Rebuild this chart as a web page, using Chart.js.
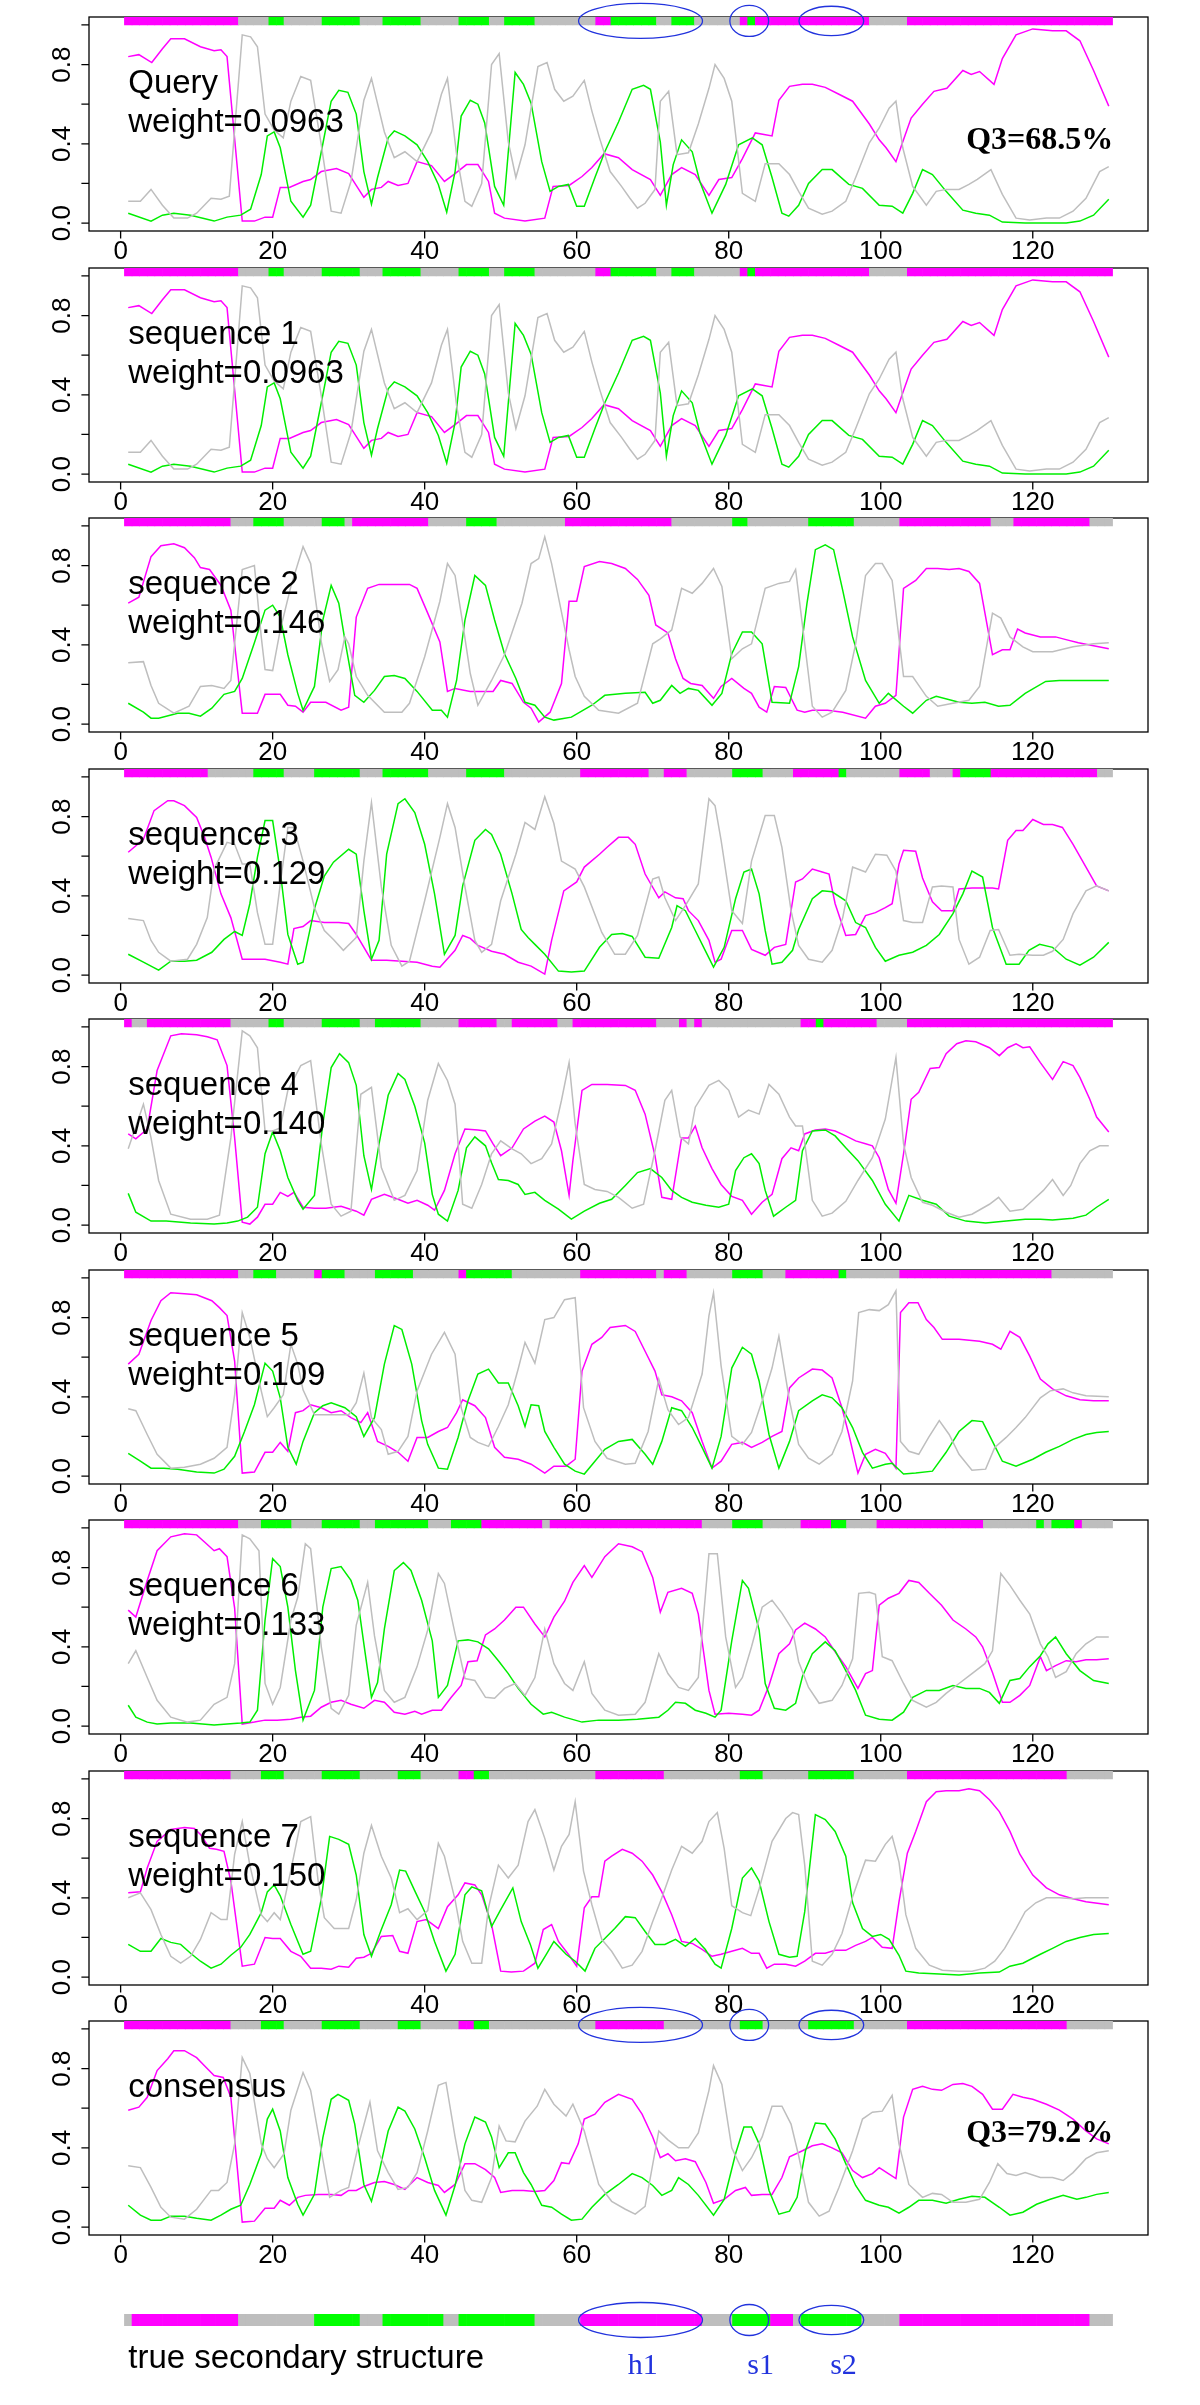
<!DOCTYPE html>
<html>
<head>
<meta charset="utf-8">
<script src="https://cdn.jsdelivr.net/npm/chart.js@4.4.1/dist/chart.umd.min.js"></script>
<style>
  body { margin: 0; background: #fff; width: 1200px; height: 2405px; position: relative; overflow: hidden; }
  canvas { position: absolute; left: 0; }
</style>
</head>
<body>
<script>
// residue positions and axis ticks
const residues = Array.from({ length: 130 }, (_, i) => i + 1)
const xTicks = [0, 20, 40, 60, 80, 100, 120]
const yTicks = [0, 0.2, 0.4, 0.6, 0.8, 1]
const yTickLabels = ['0.0', '', '0.4', '', '0.8', '']

// secondary structure per row: [type, first residue, last residue], the rest is coil
const ssQuery = [['H',1,15],['E',20,21],['E',27,31],['E',35,39],['E',45,48],['E',51,54],['H',63,64],['E',65,70],['E',73,75],['H',82,82],['E',83,83],['H',84,98],['H',104,130]]
const ssSeq1 = ssQuery
const ssSeq2 = [['H',1,14],['E',18,21],['E',27,29],['H',31,40],['E',46,49],['H',59,72],['E',81,82],['E',91,96],['H',103,114],['H',118,127]]
const ssSeq3 = [['H',1,11],['E',18,21],['E',26,31],['E',35,40],['E',46,50],['H',61,69],['H',72,74],['E',81,84],['H',89,94],['E',95,95],['H',103,106],['H',110,110],['E',111,114],['H',115,128]]
const ssSeq4 = [['H',1,1],['H',4,14],['E',20,21],['E',27,31],['E',34,39],['H',45,49],['H',52,57],['H',60,70],['H',74,74],['H',76,76],['H',90,91],['E',92,92],['H',93,99],['H',104,130]]
const ssSeq5 = [['H',1,15],['E',18,20],['H',26,26],['E',27,29],['E',34,38],['H',45,45],['E',46,51],['H',61,70],['H',72,74],['E',81,84],['H',88,94],['E',95,95],['H',103,122]]
const ssSeq6 = [['H',1,15],['E',19,22],['E',27,31],['E',34,40],['E',44,47],['H',48,55],['H',57,76],['E',81,84],['H',90,93],['E',94,95],['H',100,113],['E',121,121],['E',123,125],['H',126,126]]
const ssSeq7 = [['H',1,14],['E',19,21],['E',27,31],['E',37,39],['H',45,46],['E',47,48],['H',63,71],['E',82,84],['E',91,96],['H',104,124]]
const ssCons = ssSeq7
const ssTrue = [['H',2,15],['E',26,31],['E',35,42],['E',45,54],['H',61,76],['E',81,85],['H',86,88],['E',90,97],['H',103,127]]

// probability profiles [residue, value]: H = helix, E = strand, C = coil
const qH = [[1,.84],[2.4,.85],[4.1,.81],[5.5,.88],[6.6,.93],[8.4,.93],[10.5,.89],[12.3,.87],[13.2,.875],[14,.84],[16,.01],[17.6,.01],[19,.03],[20,.03],[21,.18],[22.2,.18],[24,.21],[25,.22],[26.4,.26],[28.4,.275],[30,.25],[32,.13],[33,.17],[34.3,.18],[35.2,.21],[36.5,.19],[37.8,.2],[39,.31],[40.9,.29],[42.6,.21],[44,.25],[45.5,.295],[47,.295],[48.4,.21],[49.2,.05],[50.5,.025],[53.2,.01],[55.8,.025],[56.9,.185],[59,.19],[60.7,.235],[62,.28],[63.6,.35],[65.5,.33],[67.3,.27],[69.7,.22],[71,.14],[72.5,.245],[73.8,.28],[75.6,.245],[77.4,.14],[78.7,.22],[80.4,.23],[81.8,.325],[83.5,.455],[85.7,.44],[86.6,.62],[88,.69],[89.7,.70],[91,.70],[92.7,.685],[94.5,.65],[96.3,.615],[98.5,.5],[99.8,.42],[100.7,.38],[102,.31],[102.9,.41],[104,.53],[105.5,.60],[107,.665],[108.7,.68],[110.8,.77],[111.9,.75],[113,.765],[114.9,.70],[116,.83],[117.8,.95],[120,.98],[122.6,.97],[124.4,.97],[126.2,.92],[128,.77],[130,.59]]
const qE = [[1,.05],[4,.01],[5.5,.04],[7,.05],[9.2,.04],[12.3,.01],[14,.03],[15.8,.04],[17.1,.07],[18.5,.245],[19.3,.44],[20.2,.46],[21,.38],[22.4,.11],[24,.03],[25,.09],[26.4,.36],[27.7,.615],[28.7,.67],[29.9,.66],[31,.55],[32,.26],[33,.095],[33.8,.23],[35.2,.43],[36,.465],[37.4,.44],[39,.395],[40.4,.31],[41.8,.195],[42.9,.055],[44,.26],[44.8,.54],[46,.62],[47,.60],[47.9,.505],[49.2,.185],[50.4,.09],[51.9,.76],[53,.70],[54,.605],[55.4,.31],[56.5,.16],[57.6,.185],[58.9,.195],[60,.085],[61,.085],[62.4,.23],[63.7,.36],[65.5,.51],[67.3,.675],[68.8,.695],[69.7,.675],[71,.41],[71.8,.09],[72.7,.295],[73.8,.42],[75.2,.36],[76.2,.21],[77.8,.05],[79.6,.195],[81.3,.395],[83.1,.43],[84.4,.395],[85.7,.23],[87,.05],[87.9,.035],[89.2,.09],[90.5,.2],[92.3,.27],[93.6,.27],[95.8,.195],[97.6,.175],[99.8,.09],[101.5,.085],[102.9,.05],[104.2,.15],[105.5,.27],[106.8,.245],[108.6,.16],[110.8,.065],[112.5,.05],[114.3,.04],[116,.005],[119,0],[124.4,0],[126.2,.01],[128,.04],[130,.12]]
const qC = [[1,.11],[2.6,.11],[4,.17],[5.5,.09],[7,.025],[8.8,.025],[10,.05],[11.9,.125],[13.2,.12],[14.3,.135],[16,.95],[17.1,.94],[18,.89],[19,.55],[20.2,.47],[21.4,.43],[22.4,.615],[23.7,.74],[25,.72],[26.4,.395],[27.7,.06],[29,.05],[30.3,.21],[32,.62],[33,.73],[34.7,.46],[36,.33],[37.4,.36],[39,.31],[40.9,.46],[42.2,.65],[43,.73],[44.2,.345],[45.3,.11],[46.2,.085],[47.5,.2],[48.8,.80],[49.8,.855],[51,.41],[52,.23],[53.2,.395],[54.9,.79],[56.1,.81],[57.1,.675],[58.3,.615],[59.5,.64],[61,.72],[62,.565],[63,.43],[64.4,.26],[65.9,.185],[67,.125],[68,.075],[69,.10],[70.3,.17],[71,.615],[72.1,.665],[73.2,.345],[74.7,.355],[76,.50],[77.4,.68],[78.2,.80],[79.4,.73],[80.4,.615],[81.8,.15],[83.5,.11],[84.8,.30],[86.6,.30],[88,.245],[89.2,.16],[90.5,.075],[92.3,.045],[93.6,.06],[95.4,.11],[96.7,.23],[98.5,.405],[99.8,.48],[101.1,.58],[102,.615],[102.9,.38],[104.2,.185],[106,.09],[107.3,.16],[108.6,.17],[110.3,.17],[111.6,.195],[112.7,.22],[114.5,.27],[116,.145],[117.8,.025],[119.6,.015],[121.8,.025],[123.5,.025],[125.3,.06],[127,.125],[128.8,.26],[130,.285]]

const s1H = qH, s1E = qE, s1C = qC

const s2H = [[1,.61],[2.4,.64],[4,.845],[5.3,.90],[7,.91],[8.4,.89],[9.7,.84],[10.5,.79],[11.7,.78],[13.2,.70],[14.5,.575],[16,.055],[18,.055],[19,.15],[21,.15],[22,.095],[23,.09],[24,.06],[25,.11],[27,.11],[29,.07],[30,.085],[31,.54],[32.5,.685],[34,.705],[38,.705],[39,.685],[40.4,.56],[42,.415],[43,.165],[44,.18],[46,.165],[49,.165],[50,.22],[51.5,.205],[53,.11],[54,.08],[55,.01],[56.5,.06],[58,.205],[59,.62],[60,.62],[61,.795],[63,.82],[64.6,.81],[66.4,.785],[68,.73],[69.5,.65],[70.4,.50],[72,.46],[73,.33],[74,.23],[75,.205],[76.5,.195],[78,.13],[79,.19],[80.4,.23],[82,.18],[83,.155],[84,.085],[85,.06],[86,.19],[87.5,.185],[89,.07],[90,.06],[91,.07],[93,.07],[95,.06],[98,.03],[99.3,.09],[100.6,.105],[102,.145],[103,.685],[104.6,.725],[106,.785],[107.5,.785],[109,.78],[110.3,.785],[111.6,.77],[113,.71],[114.7,.35],[116,.375],[117,.375],[118,.48],[119,.46],[121,.44],[123,.44],[124.5,.425],[126,.41],[128,.395],[130,.38]]
const s2E = [[1,.105],[3,.06],[4,.03],[5,.03],[7.5,.055],[9,.055],[10.5,.04],[12,.08],[13.6,.15],[15,.165],[16,.23],[17.6,.41],[19,.575],[20,.60],[21,.54],[22,.35],[23.3,.155],[24,.07],[25.5,.19],[26.6,.525],[27.7,.70],[28.7,.61],[29.5,.425],[30.8,.145],[32,.11],[33.4,.17],[34.7,.24],[36,.245],[37.4,.23],[39,.165],[41,.07],[42.2,.07],[43,.035],[44.2,.22],[45.3,.525],[46.6,.75],[48,.70],[49.2,.525],[50.5,.355],[52,.23],[53.2,.11],[54.5,.095],[55.8,.035],[57,.02],[59.3,.035],[62,.095],[63.7,.145],[66.4,.155],[69,.16],[70,.105],[71,.12],[72.5,.195],[73.6,.155],[74.7,.18],[76,.17],[77.8,.095],[79.1,.155],[80.4,.355],[81.8,.465],[83,.465],[84.4,.405],[85.7,.11],[88,.105],[89.2,.29],[90.3,.61],[91.4,.88],[92.7,.905],[93.8,.88],[95,.675],[96.3,.44],[98,.22],[99.8,.105],[101,.155],[103,.09],[104.2,.055],[106,.12],[107.3,.14],[110.3,.11],[112,.105],[113.7,.11],[115.5,.09],[117,.095],[119,.155],[121.7,.215],[123.5,.22],[128,.22],[130,.22]]
const s2C = [[1,.31],[3,.315],[4,.195],[5,.105],[7,.055],[9,.09],[10.5,.19],[12,.195],[13.6,.18],[14.5,.22],[16,.78],[17.6,.80],[18.5,.44],[19,.275],[20,.27],[21,.475],[22.4,.695],[24,.895],[25,.81],[26.4,.415],[27.5,.215],[28.6,.275],[29.5,.44],[30,.405],[31,.24],[32.5,.145],[34.7,.06],[37,.06],[38,.105],[40,.34],[42,.62],[43,.81],[44,.75],[45,.51],[46,.255],[47,.095],[48.8,.22],[50.5,.35],[52.8,.61],[54,.81],[55,.835],[55.8,.945],[56.7,.81],[58,.565],[59,.375],[59.8,.24],[61,.14],[62.9,.07],[65.5,.055],[68,.105],[70,.405],[71,.43],[72.5,.475],[73.8,.685],[75.2,.66],[76.5,.71],[78,.785],[79.1,.695],[80.4,.33],[81.8,.38],[83,.405],[84.8,.685],[86.6,.71],[88,.72],[88.8,.78],[90,.405],[91,.09],[92.3,.035],[93.6,.06],[95.4,.17],[96.7,.405],[98,.75],[99.3,.81],[100.2,.81],[101.5,.725],[103,.24],[104.2,.24],[106,.14],[107.5,.09],[109.5,.105],[111.6,.12],[113,.19],[114.7,.56],[115.8,.535],[117,.44],[118.7,.39],[120,.365],[122.6,.365],[125.3,.39],[128,.405],[130,.41]]

const s3H = [[1,.62],[3,.685],[4.4,.83],[6.2,.88],[7,.88],[8.4,.855],[10,.795],[11,.70],[11.9,.595],[13.2,.41],[14.5,.29],[16,.08],[18,.08],[19,.08],[21,.065],[22,.055],[22.8,.235],[24,.245],[25,.275],[26.8,.265],[28.7,.265],[30,.26],[31,.205],[33,.075],[35,.075],[37,.07],[39,.065],[41,.045],[42,.04],[44,.125],[45,.20],[46,.185],[47,.15],[48.8,.12],[50.5,.105],[52.3,.065],[54,.045],[55.8,.005],[56.7,.175],[58.3,.425],[60,.47],[61,.545],[63,.61],[64,.645],[65.5,.695],[66.8,.695],[67.7,.66],[69,.51],[70.8,.39],[71.6,.42],[73,.39],[74,.385],[74.7,.325],[76,.275],[77.4,.175],[78.2,.065],[79,.08],[80.4,.225],[81.8,.225],[83,.13],[84.8,.10],[86,.14],[87.5,.155],[88.8,.47],[89.7,.485],[91,.535],[92.3,.52],[93.2,.51],[94,.36],[95.4,.20],[96.7,.205],[98,.30],[99.3,.315],[100.6,.34],[101.5,.36],[102.4,.56],[103,.63],[104.6,.625],[105.5,.49],[106.8,.37],[108,.325],[109.5,.325],[110.3,.435],[112,.44],[114.7,.44],[115.5,.435],[116.7,.68],[117.8,.73],[118.7,.73],[120,.785],[121.4,.76],[122.6,.76],[123.9,.745],[125.3,.66],[127,.545],[128.4,.45],[130,.425]]
const s3E = [[1,.105],[3,.065],[5,.025],[6.6,.07],[8.4,.07],[10,.075],[12,.115],[13.6,.18],[15,.22],[16,.20],[17,.36],[18,.595],[19,.78],[20,.78],[21,.525],[22,.205],[23.3,.055],[24,.065],[25.5,.335],[26.8,.50],[28,.57],[30,.635],[31,.61],[32,.325],[33,.08],[34,.175],[35,.61],[36.5,.865],[37.4,.89],[38.7,.82],[40,.66],[41.3,.41],[42.6,.105],[44,.20],[45,.45],[46.6,.68],[48,.735],[48.8,.71],[50,.61],[51.5,.41],[52.7,.23],[53.6,.19],[54.5,.155],[55.8,.105],[57.6,.02],[59.3,.015],[61,.02],[63,.14],[64.6,.205],[66,.21],[67.3,.195],[69,.09],[70.8,.085],[72.5,.24],[73.2,.35],[74.3,.325],[75.6,.225],[76.9,.125],[78,.04],[79.4,.14],[80.9,.385],[82,.52],[83,.535],[84,.41],[84.8,.225],[85.7,.055],[87,.065],[88.4,.125],[89.2,.23],[91,.385],[92.3,.425],[93.6,.42],[95.4,.375],[96.7,.265],[98,.24],[99.3,.14],[100.6,.07],[102.4,.10],[104.2,.115],[106,.15],[107.7,.205],[109.5,.31],[110.8,.41],[112,.525],[113.4,.495],[114.7,.24],[116.5,.055],[118.2,.055],[119.5,.125],[120.9,.155],[122.6,.14],[124.4,.08],[126.2,.05],[128,.09],[130,.165]]
const s3C = [[1,.285],[3,.275],[4,.175],[5,.115],[6.6,.07],[8.8,.08],[10,.155],[11.4,.29],[12.3,.535],[14,.67],[15,.66],[16,.56],[17,.56],[18,.315],[19,.155],[20,.155],[21,.46],[22,.745],[22.8,.745],[24,.575],[25.5,.34],[26.8,.225],[28,.18],[29.3,.125],[31,.19],[32,.575],[33,.87],[34.3,.445],[35.6,.15],[37,.045],[38,.07],[40,.375],[42,.695],[43,.865],[44,.745],[45.3,.445],[46.6,.175],[47.5,.115],[48.8,.155],[50,.375],[52,.61],[53.2,.77],[54.5,.735],[55.8,.90],[57,.765],[58,.575],[59.8,.535],[61,.445],[63.3,.215],[65,.105],[66.4,.105],[68,.20],[70,.485],[70.8,.495],[71.6,.39],[73,.275],[74.3,.35],[76,.46],[77.4,.89],[78.2,.855],[79,.68],[80.4,.325],[81.8,.26],[83,.575],[84.8,.805],[86,.805],[87,.645],[88.2,.325],[89.2,.15],[90.5,.08],[92.3,.065],[93.6,.125],[95,.29],[96.3,.545],[98,.52],[99.3,.61],[100.8,.605],[102,.525],[103,.275],[104.2,.265],[105.5,.265],[106.8,.445],[108,.45],[109.5,.445],[110.3,.18],[111.6,.055],[113,.09],[114.4,.225],[115.5,.23],[117,.10],[118.2,.105],[120,.10],[121.4,.10],[122.6,.12],[124,.18],[125.3,.31],[127,.425],[128.4,.45],[130,.425]]

const s4H = [[1,.46],[2,.435],[3.5,.485],[4.8,.78],[6.6,.955],[8,.965],[10,.96],[11.4,.95],[12.7,.935],[14,.805],[15,.44],[16,.015],[17,.005],[18,.04],[19,.105],[20,.105],[21,.165],[22,.145],[22.8,.165],[24,.09],[25.5,.085],[27,.085],[29,.095],[31,.07],[32,.05],[33,.13],[34.7,.155],[36.5,.13],[37.8,.11],[39,.125],[40.4,.10],[41.3,.075],[42.6,.175],[44,.36],[45.3,.485],[47,.48],[48,.475],[49,.41],[50,.35],[51.5,.39],[53,.485],[54.5,.525],[55.8,.55],[57,.52],[58,.375],[59,.15],[59.5,.325],[60.7,.68],[62,.71],[64,.71],[66.4,.705],[67.7,.68],[69,.56],[70.3,.35],[71.2,.14],[72.5,.13],[73.8,.44],[74.7,.44],[75.6,.50],[76.5,.39],[77.8,.285],[79,.205],[80.4,.145],[81.8,.125],[83,.055],[84.4,.115],[85.7,.155],[87,.335],[88.2,.39],[89.2,.375],[90,.46],[91.4,.48],[92.7,.485],[94,.475],[95.4,.45],[96.7,.425],[98,.41],[98.9,.40],[99.8,.34],[101,.18],[102,.11],[103,.36],[104,.635],[105,.67],[106.5,.79],[107.7,.795],[108.6,.865],[110,.915],[111.2,.93],[112.5,.925],[114.3,.895],[115.6,.855],[116.7,.895],[117.8,.915],[118.7,.895],[119.6,.90],[121,.82],[122.6,.735],[124,.825],[125.3,.805],[126.2,.745],[127.5,.635],[128.4,.545],[130,.47]]
const s4E = [[1,.16],[2,.065],[4,.02],[6,.02],[9.2,.01],[12.3,.005],[14,.01],[15.4,.02],[16.7,.04],[18,.09],[19,.36],[20,.47],[21,.375],[22,.24],[23.3,.125],[24,.08],[25.5,.15],[26.6,.51],[27.7,.795],[28.8,.865],[30,.82],[31,.705],[32,.35],[33,.18],[34,.41],[35.2,.655],[36.5,.765],[37.4,.735],[38.7,.60],[40,.415],[41,.155],[41.8,.055],[43,.02],[44.4,.175],[45.5,.39],[46.6,.445],[48,.40],[48.8,.315],[49.7,.23],[51,.225],[52.3,.205],[53.2,.155],[54.5,.165],[55.8,.125],[57.6,.08],[59.3,.03],[61,.07],[63,.11],[64.6,.13],[66.4,.20],[68,.265],[69.7,.285],[71.2,.24],[72.5,.175],[73.8,.14],[75.2,.115],[77,.10],[78.7,.09],[80,.105],[80.9,.275],[82,.34],[83,.36],[84,.31],[84.8,.175],[85.9,.045],[87.5,.09],[88.8,.125],[89.7,.375],[91,.475],[92.7,.48],[94,.45],[95.4,.39],[97,.325],[98.9,.225],[100.6,.105],[102.4,.02],[103.7,.15],[105.5,.125],[107.3,.105],[109,.045],[111.2,.02],[113.8,.01],[116.5,.02],[119,.03],[121,.03],[122.6,.025],[125.3,.035],[127,.05],[128.4,.09],[130,.13]]
const s4C = [[1,.385],[3,.61],[4,.44],[5,.225],[6.6,.055],[9.2,.03],[11.4,.03],[13,.05],[14.5,.44],[16,.98],[17,.955],[18,.895],[19,.475],[20,.475],[21,.49],[22,.68],[23.7,.805],[25,.83],[26.4,.41],[27.7,.105],[29,.045],[30.3,.07],[31.6,.66],[33,.695],[34.3,.29],[36,.125],[37.4,.15],[39,.275],[40.4,.63],[41.8,.815],[43,.73],[44,.61],[45,.105],[46.2,.085],[47.5,.205],[48.8,.36],[50,.425],[51.5,.385],[52.7,.36],[54,.31],[55.4,.335],[56.7,.41],[58,.63],[59,.82],[59.8,.51],[61,.205],[62.4,.18],[64,.17],[65.5,.14],[67.3,.085],[68.8,.105],[70.3,.375],[71.6,.63],[72.5,.68],[73.6,.445],[74.7,.41],[75.6,.595],[77.4,.705],[78.7,.73],[80,.68],[81.3,.545],[82.6,.58],[84,.56],[85.3,.71],[86.6,.66],[88,.545],[88.8,.50],[89.7,.50],[91,.125],[92.3,.045],[93.6,.06],[95.4,.12],[97,.225],[98.9,.34],[100.6,.535],[102,.845],[103,.41],[104,.24],[105.5,.115],[106.8,.10],[108.6,.065],[110.3,.04],[112,.055],[114.3,.105],[115.5,.14],[117,.07],[118.7,.08],[120,.125],[121.4,.175],[122.6,.23],[124,.15],[125,.20],[126.2,.31],[127.5,.375],[128.8,.40],[130,.40]]

const s5H = [[1,.565],[2.4,.615],[4,.785],[5.3,.885],[6.6,.925],[8.4,.92],[10,.915],[12,.885],[13,.85],[14,.81],[15,.58],[16,.015],[17.6,.02],[19,.12],[20,.12],[21,.17],[22,.125],[23,.32],[24,.33],[25,.36],[26.4,.345],[27.7,.32],[29,.33],[30.3,.295],[31.6,.27],[32.5,.32],[33.8,.175],[35.2,.15],[36.5,.12],[37.8,.075],[39,.195],[40.4,.195],[41.8,.225],[43,.245],[44.2,.32],[45,.385],[46.6,.355],[48,.295],[49.2,.145],[50.5,.095],[52.3,.085],[54,.06],[55.8,.015],[57,.05],[58.6,.05],[59.8,.085],[60.7,.53],[62,.665],[63.3,.70],[64.4,.75],[66.4,.76],[67.7,.73],[69,.63],[70.3,.53],[71.2,.41],[72.5,.40],[73.8,.38],[75.2,.32],[76.5,.175],[77.8,.04],[79,.075],[80.4,.16],[81.8,.17],[83,.145],[84.4,.17],[85.7,.20],[87,.225],[88,.445],[89.2,.495],[91,.54],[92.3,.535],[93.6,.495],[94.9,.345],[95.8,.21],[97,.015],[98,.11],[99.3,.135],[100.6,.115],[102,.04],[102.6,.825],[103.7,.875],[104.9,.875],[106,.79],[107,.75],[108.1,.69],[110.3,.69],[113,.68],[114.7,.665],[115.8,.64],[117,.73],[118.3,.70],[119.6,.605],[121,.49],[122.6,.44],[124.4,.405],[126.2,.385],[128,.38],[130,.38]]
const s5E = [[1,.115],[2.6,.075],[4,.04],[5.7,.04],[7.5,.035],[10,.02],[12.3,.015],[13.6,.035],[15,.10],[16.3,.225],[17.6,.36],[19,.57],[20,.53],[21,.395],[22,.145],[23.1,.06],[24,.175],[25.5,.32],[26.6,.355],[27.7,.37],[29.5,.345],[31,.30],[32,.20],[33.4,.295],[34.7,.565],[36,.76],[37,.74],[38.3,.565],[39.6,.28],[40.4,.16],[41.8,.04],[43,.035],[44.4,.195],[45.7,.38],[47,.515],[48.4,.54],[49.7,.47],[51,.47],[52.3,.355],[53.2,.25],[54,.36],[55,.355],[55.8,.225],[57,.145],[58.4,.06],[59.8,.025],[61,.01],[62.4,.075],[63.7,.135],[65.5,.175],[67.3,.185],[69,.11],[70,.06],[71.2,.175],[72.5,.345],[73.8,.33],[75.2,.245],[76.5,.145],[77.8,.04],[79,.20],[80.4,.545],[81.8,.65],[83,.615],[84,.48],[85.3,.21],[86.6,.04],[88,.175],[89.2,.33],[91,.38],[92.3,.41],[93.6,.395],[94.9,.345],[96.3,.245],[97.6,.12],[98.9,.04],[100.6,.06],[101.5,.065],[103,.01],[104.6,.015],[106.8,.025],[108.6,.12],[110.3,.225],[112,.28],[113.4,.275],[114.7,.175],[116,.075],[117.8,.05],[120,.085],[121.7,.12],[123.5,.15],[125.3,.185],[127,.21],[128.4,.22],[130,.225]]
const s5C = [[1,.34],[2,.33],[3.5,.21],[4.8,.11],[6.6,.04],[8.4,.045],[10.5,.06],[12.3,.09],[14,.145],[15,.41],[16,.825],[17,.70],[18.5,.43],[19.3,.30],[20.2,.345],[21.4,.41],[22.4,.665],[23.3,.565],[24,.435],[25.5,.31],[26.8,.31],[28.6,.31],[30,.31],[31,.37],[32,.52],[33,.295],[34.3,.235],[35.2,.11],[36.5,.125],[37.8,.20],[39,.43],[40.9,.615],[42.6,.725],[44,.615],[44.8,.345],[46,.195],[47,.17],[48.4,.15],[49.7,.25],[51,.36],[52.3,.54],[53.2,.675],[54.5,.57],[55.8,.79],[57,.80],[58.4,.89],[59.8,.90],[60.9,.345],[62.4,.175],[64,.09],[66.4,.06],[67.7,.065],[69.4,.225],[70.8,.49],[72,.335],[73.4,.26],[74.7,.295],[76.5,.515],[77.4,.81],[78,.925],[79,.555],[80.4,.20],[81.8,.16],[83,.22],[84.4,.38],[85.7,.545],[86.6,.705],[88,.38],[89.2,.16],[90.5,.09],[91.9,.06],[93.6,.11],[94.9,.225],[96.3,.48],[97.1,.825],[98.5,.84],[99.8,.835],[101,.865],[102,.935],[102.6,.175],[103.7,.125],[105,.11],[106.3,.195],[107.7,.28],[109,.21],[110.3,.11],[112,.03],[113.8,.035],[115,.145],[116.5,.195],[117.8,.245],[119,.295],[121,.395],[122.3,.43],[124,.44],[125.3,.42],[127,.405],[130,.40]]

const s6H = [[1,.585],[2,.55],[3.5,.735],[4.8,.885],[6.6,.955],[8.4,.97],[10,.965],[11,.93],[12.3,.885],[13,.895],[14,.855],[15,.595],[16,.01],[17.6,.02],[19,.03],[20.6,.03],[22.4,.035],[23.7,.045],[25,.05],[26.4,.095],[27.7,.12],[29,.13],[30.3,.11],[32,.09],[33.4,.13],[34.7,.12],[36,.07],[37.4,.06],[38.7,.075],[39.6,.06],[41,.08],[42.2,.08],[43.5,.145],[44.8,.205],[45.7,.325],[46.9,.33],[48,.46],[49.2,.49],[50.5,.535],[52,.60],[53,.60],[54.5,.515],[55.8,.45],[57,.55],[58.4,.63],[59.5,.725],[61,.81],[62,.75],[63.7,.855],[65.5,.92],[67.3,.905],[68.6,.88],[70,.75],[71,.575],[72,.675],[73.8,.695],[75.2,.67],[76,.565],[77.4,.18],[78.2,.06],[80,.065],[81.8,.06],[83,.055],[84,.08],[85.3,.205],[86.6,.365],[88,.415],[88.8,.485],[90,.52],[91.4,.49],[92.7,.45],[94,.375],[95.4,.30],[97,.19],[98,.265],[98.9,.28],[99.8,.61],[101,.645],[102.4,.67],[103.7,.735],[105,.725],[106.4,.67],[108,.61],[109.5,.535],[111.2,.49],[112.5,.45],[113.4,.40],[114.7,.27],[116,.12],[117,.12],[118.3,.155],[119.6,.205],[121,.35],[121.8,.28],[123,.305],[124.4,.33],[125.7,.325],[127,.335],[128.4,.335],[130,.34]]
const s6E = [[1,.105],[2,.045],[3.5,.02],[4.8,.01],[6.6,.015],[9.2,.015],[12.3,.005],[14,.01],[15.8,.015],[17,.02],[18,.08],[19,.535],[20,.845],[21,.805],[22,.60],[23,.28],[24,.03],[25.5,.18],[26.6,.60],[27.7,.795],[29,.805],[30.3,.735],[31.2,.635],[32,.415],[33,.145],[33.8,.22],[34.7,.49],[36,.785],[37.2,.825],[38.2,.785],[39.6,.635],[41,.43],[41.8,.145],[43,.205],[44.4,.43],[45.7,.435],[47,.425],[48.4,.39],[49.7,.33],[51,.265],[52.3,.19],[54,.11],[55.6,.06],[56.7,.07],[58.4,.045],[60.7,.02],[62.9,.03],[65.5,.03],[68,.035],[70.8,.045],[72,.08],[73,.12],[74.3,.115],[75.6,.08],[77,.065],[78.2,.045],[79,.08],[80.4,.43],[81.8,.735],[82.6,.695],[84,.485],[84.8,.215],[86,.09],[87.5,.08],[88.8,.115],[89.7,.25],[91,.365],[92.7,.425],[94,.38],[95.4,.28],[96.7,.18],[98,.055],[99.8,.035],[101.5,.03],[103,.07],[104.2,.145],[106,.18],[107.7,.18],[109.5,.205],[111.2,.19],[113,.19],[114.3,.17],[115.6,.115],[117,.23],[118.3,.24],[119.6,.30],[121,.355],[122,.415],[123,.45],[124.4,.365],[126.2,.28],[128,.23],[130,.215]]
const s6C = [[1,.315],[2,.38],[3.5,.245],[4.8,.13],[6.6,.045],[8.8,.02],[10.5,.03],[12.3,.11],[14,.145],[15,.315],[16,.965],[17,.945],[18.2,.885],[19,.215],[20,.11],[21,.195],[22.4,.535],[23.3,.65],[24.3,.92],[25,.895],[26.4,.40],[27.7,.09],[28.7,.06],[30,.155],[31,.51],[32.5,.725],[33.4,.455],[34.7,.18],[36,.12],[37.4,.145],[39,.30],[40.4,.485],[41.8,.77],[42.6,.72],[44,.465],[45.3,.24],[46.6,.23],[48,.145],[49.2,.14],[50.5,.19],[51.9,.215],[53.2,.155],[54.5,.245],[55.8,.49],[57,.315],[58.4,.215],[59.5,.18],[61,.325],[62,.165],[63.7,.08],[65.5,.055],[67.7,.06],[69,.12],[70.8,.365],[72,.265],[73.4,.195],[74.7,.18],[76,.245],[77.4,.87],[78.5,.87],[79.6,.45],[80.9,.195],[81.8,.245],[83,.40],[84.4,.60],[85.7,.635],[87,.57],[88.4,.485],[89.2,.325],[90.5,.195],[91.9,.115],[93.6,.13],[94.9,.205],[96.3,.34],[97.1,.67],[98.5,.675],[99.3,.665],[100.2,.35],[101.5,.33],[103,.215],[104.2,.13],[106,.095],[107.3,.12],[108.6,.165],[110.3,.215],[112,.265],[113.7,.315],[114.7,.38],[115.8,.77],[117,.71],[118.3,.635],[119.6,.565],[121,.415],[122,.35],[123,.245],[124.4,.275],[125.7,.365],[127,.415],[128.4,.45],[130,.45]]

const s7H = [[1,.425],[2.6,.43],[3.5,.55],[4.8,.685],[6.6,.745],[8.4,.755],[9.7,.75],[10.5,.72],[11.7,.65],[12.6,.645],[13.6,.635],[14.5,.485],[16,.055],[17.6,.065],[19,.20],[20,.195],[21,.195],[22.4,.13],[23.7,.105],[25,.045],[26.4,.045],[27.7,.04],[28.7,.055],[30,.05],[31,.095],[32,.10],[33,.12],[34.3,.205],[35.8,.21],[36.7,.13],[37.8,.12],[39,.28],[40.2,.29],[41.8,.245],[43,.355],[44.4,.415],[45.3,.475],[46.6,.465],[47.5,.415],[48.8,.265],[50,.03],[51.4,.025],[53,.03],[54.5,.07],[55.6,.24],[56.7,.265],[57.6,.18],[59,.11],[60,.055],[61,.35],[62,.405],[62.9,.405],[63.7,.585],[64.6,.61],[66,.645],[67.3,.625],[68.6,.585],[70,.515],[71.2,.43],[72.5,.315],[73.8,.18],[75.2,.17],[76.5,.14],[77.8,.105],[79,.115],[80.4,.13],[81.8,.145],[83,.12],[84,.12],[85,.045],[86,.065],[87.5,.065],[88.8,.055],[90,.08],[91.4,.12],[92.7,.12],[94,.135],[95.4,.135],[96.7,.16],[98,.18],[98.9,.20],[100.2,.15],[101.5,.145],[102.4,.38],[103.5,.625],[104.6,.735],[106,.885],[107.3,.935],[108.6,.94],[110.3,.94],[111.6,.95],[113,.94],[114.3,.895],[115.6,.835],[117,.735],[118.3,.62],[120,.515],[121.8,.45],[123.5,.415],[125.3,.395],[127,.38],[130,.365]]
const s7E = [[1,.165],[2.6,.13],[4,.13],[5.3,.195],[6.6,.175],[7.9,.165],[9.2,.12],[10.5,.08],[11.9,.045],[13.2,.065],[14.5,.11],[15.8,.15],[17,.215],[18.5,.325],[19.3,.43],[20.2,.465],[21,.41],[22.4,.265],[24,.115],[25,.13],[26.4,.395],[27.5,.71],[28.7,.695],[30,.67],[31,.515],[32,.215],[33,.105],[34.3,.24],[35.6,.365],[36.7,.54],[37.5,.535],[38.7,.435],[40,.33],[41.3,.18],[42.8,.03],[44,.115],[45.3,.415],[46.2,.455],[47.5,.435],[48.8,.255],[50,.34],[51.6,.45],[52.7,.28],[53.9,.165],[54.9,.045],[56,.115],[57,.18],[58.6,.115],[59.8,.08],[61.1,.03],[62.4,.145],[63.7,.195],[65,.245],[66.4,.305],[67.7,.30],[69,.23],[70.3,.165],[71.6,.165],[73,.19],[74.3,.155],[75.6,.195],[76.9,.14],[78.2,.065],[79,.045],[80.4,.245],[81.8,.50],[83,.55],[84,.485],[85.3,.28],[86.6,.115],[88,.10],[89,.105],[90,.33],[91.4,.82],[92.7,.795],[94,.735],[95.4,.61],[96.3,.375],[97.6,.245],[98.9,.205],[100,.215],[101.1,.19],[102.4,.11],[103.3,.03],[105,.02],[107.7,.015],[110.3,.01],[113,.02],[115.6,.025],[117,.055],[118.7,.07],[121,.115],[122.6,.145],[124.4,.18],[126.2,.20],[128,.215],[130,.22]]
const s7C = [[1,.40],[2.6,.425],[4,.34],[5.3,.215],[6.6,.105],[7.9,.07],[9.2,.105],[10.5,.19],[11.9,.325],[13.2,.29],[14,.29],[15,.62],[16,.785],[17,.565],[18.5,.315],[19.3,.28],[20.2,.325],[21,.29],[22.4,.54],[23.7,.785],[25,.81],[26,.48],[26.8,.30],[28.1,.245],[30,.245],[31,.39],[32,.625],[33,.765],[34.3,.61],[35.6,.50],[36.7,.325],[37.8,.345],[39,.29],[40.4,.335],[41.8,.675],[42.6,.61],[44,.39],[45,.18],[46.2,.07],[47.5,.07],[48.4,.35],[49.7,.565],[51,.50],[52.3,.565],[53.6,.785],[54.5,.845],[55.8,.70],[57,.54],[58,.66],[59,.72],[59.8,.885],[60.9,.535],[62,.365],[63.3,.19],[64.6,.13],[66,.045],[67.3,.06],[68.6,.13],[70,.28],[71.2,.40],[72.5,.54],[73.8,.66],[75.2,.625],[76.5,.685],[77.4,.785],[78.5,.83],[79.4,.65],[80.4,.36],[81.8,.325],[82.9,.31],[84,.445],[85.7,.685],[87.5,.80],[88.4,.83],[89.2,.82],[90,.565],[91,.08],[92.3,.06],[93.6,.115],[94.9,.22],[96.3,.405],[98,.59],[99.3,.585],[100.6,.67],[101.5,.71],[102.4,.58],[103.3,.315],[104.6,.145],[106.4,.06],[108.1,.035],[110.3,.03],[112,.03],[113.7,.045],[115,.08],[116.3,.145],[117.8,.245],[119,.33],[120.4,.375],[121.8,.40],[123.5,.40],[125.3,.395],[127,.40],[130,.40]]

const cH = [[1,.59],[2.4,.605],[3.5,.655],[4.8,.79],[6.2,.85],[7,.89],[8.4,.89],[10,.855],[11,.815],[12.3,.765],[13.5,.755],[14.5,.655],[16,.025],[17.6,.03],[19,.095],[20.2,.095],[21,.135],[22.2,.11],[23.3,.15],[24.3,.16],[26,.165],[27.7,.165],[29,.16],[30,.185],[31,.185],[32,.205],[33.4,.225],[34.7,.23],[36,.215],[37.4,.19],[39,.25],[40.4,.225],[41.8,.21],[42.6,.175],[44,.215],[45.3,.32],[46.6,.32],[48,.29],[49.2,.25],[50,.175],[51.5,.185],[53,.185],[54.5,.18],[55.8,.185],[57,.235],[58,.325],[59,.32],[60.2,.42],[61,.545],[62.4,.57],[63.7,.63],[65.5,.67],[67.3,.645],[68.6,.57],[70,.455],[71,.35],[72,.37],[73,.335],[74.3,.345],[75.6,.33],[77,.225],[78,.12],[79.4,.14],[80.9,.185],[82.2,.20],[83,.16],[84.4,.165],[85.7,.165],[87,.25],[88,.355],[89.7,.385],[91,.41],[92.3,.42],[93.6,.40],[94.9,.375],[96.3,.285],[97.6,.25],[98.9,.27],[99.8,.30],[101,.27],[102,.245],[103,.555],[104.2,.695],[105.5,.71],[106.8,.695],[108,.69],[109.5,.72],[110.8,.725],[112,.71],[113.4,.67],[114.7,.595],[116,.595],[117.4,.67],[118.7,.655],[120,.645],[121.8,.62],[123.5,.59],[125.3,.545],[127,.485],[128.4,.445],[130,.42]]
const cE = [[1,.11],[2.6,.06],[4,.035],[5.3,.035],[6.6,.055],[8.4,.055],[10,.045],[11.9,.035],[13.2,.06],[14.5,.09],[15.8,.11],[17,.215],[18.5,.37],[19.3,.545],[20,.595],[21,.485],[22,.25],[23.3,.115],[24,.06],[25.5,.165],[26.6,.45],[27.7,.645],[28.6,.67],[30,.64],[30.8,.52],[32,.215],[33,.13],[34,.275],[35.2,.485],[36.5,.605],[37.4,.585],[38.7,.495],[40,.35],[41.3,.185],[42.8,.06],[44,.21],[45.3,.42],[46.6,.555],[48,.53],[48.8,.455],[49.8,.30],[51,.375],[51.9,.375],[53,.275],[54,.215],[55.4,.11],[56.7,.10],[58,.065],[59.3,.035],[60.7,.04],[62,.10],[63.7,.165],[65.5,.215],[67.3,.27],[68.6,.25],[70,.21],[71.2,.16],[72.5,.185],[73.4,.25],[74.7,.215],[76,.16],[78,.06],[79.4,.14],[80.9,.37],[82,.505],[83,.505],[84,.42],[85.3,.185],[86.6,.065],[88,.08],[89,.15],[90.1,.385],[91.4,.525],[92.7,.52],[94,.445],[95.4,.32],[96.7,.21],[98,.135],[99.8,.11],[101,.10],[102.4,.07],[103.7,.10],[105,.135],[106.8,.135],[108.6,.12],[110.3,.14],[112,.155],[113.7,.15],[115.6,.10],[117,.06],[118.7,.075],[120.5,.115],[122.3,.14],[124,.16],[125.8,.14],[127,.15],[128.4,.165],[130,.175]]
const cC = [[1,.31],[2.6,.30],[4,.20],[5.3,.10],[6.6,.05],[8.4,.04],[10,.09],[11.9,.185],[12.9,.185],[14,.225],[15,.42],[16,.855],[17,.775],[18.5,.42],[19.3,.345],[20.2,.30],[21.5,.37],[22.4,.59],[24,.78],[25,.69],[26.4,.385],[27.5,.15],[29,.185],[30,.20],[31.2,.40],[32.8,.63],[33.8,.385],[35.2,.275],[36.5,.19],[37.8,.20],[39,.275],[40.4,.485],[41.8,.715],[42.8,.73],[44,.455],[45.3,.185],[46.2,.135],[47.5,.125],[48.8,.25],[49.8,.51],[50.7,.435],[51.9,.43],[53.2,.535],[54.8,.61],[55.8,.695],[57,.62],[58.6,.56],[59.5,.62],[61,.485],[62.9,.215],[64.6,.13],[66.4,.09],[67.7,.065],[69,.105],[70.8,.485],[72,.44],[73.4,.40],[74.7,.40],[76,.475],[77.4,.69],[78,.815],[79.1,.72],[80.4,.40],[81.8,.285],[83,.35],[84.4,.455],[85.7,.61],[87,.61],[88.2,.52],[89.2,.36],[90.5,.125],[91.9,.055],[93.2,.08],[94.5,.20],[96.3,.385],[97.6,.545],[98.9,.58],[100.2,.585],[101.5,.665],[102.4,.42],[103.7,.215],[105.5,.15],[106.8,.17],[108,.165],[109.5,.125],[111.2,.125],[113,.14],[114.3,.225],[115.4,.32],[116.6,.27],[117.8,.26],[119,.275],[121,.25],[122.6,.25],[124,.235],[125.3,.275],[127,.345],[128.4,.375],[130,.385]]

// ---------------------------------------------------------------
const HELIX = '#ff00ff', STRAND = '#00ee00', COIL = '#bebebe', BAR_GREEN = '#00ff00'
const RING = '#2233dd'
const PANEL_STEP = 250.55
const SANS = '"Liberation Sans", Arial, Helvetica, sans-serif'
const SERIF = '"Liberation Serif", "Times New Roman", serif'

// circled regions h1, s1, s2 (centre residue, half width in residues, radius in px)
const rings = [[68.4, 8.15, 17.5], [82.7, 2.55, 15.5], [93.5, 4.26, 14.7]]

const panels = [
  { text: [['Query', .657], ['weight=0.0963', .462]], ss: ssQuery, H: qH, E: qE, C: qC, q3: ['Q3=68.5%', .375], rings: true },
  { text: [['sequence 1', .657], ['weight=0.0963', .462]], ss: ssSeq1, H: s1H, E: s1E, C: s1C },
  { text: [['sequence 2', .657], ['weight=0.146', .462]], ss: ssSeq2, H: s2H, E: s2E, C: s2C },
  { text: [['sequence 3', .657], ['weight=0.129', .462]], ss: ssSeq3, H: s3H, E: s3E, C: s3C },
  { text: [['sequence 4', .657], ['weight=0.140', .462]], ss: ssSeq4, H: s4H, E: s4E, C: s4C },
  { text: [['sequence 5', .657], ['weight=0.109', .462]], ss: ssSeq5, H: s5H, E: s5E, C: s5C },
  { text: [['sequence 6', .657], ['weight=0.133', .462]], ss: ssSeq6, H: s6H, E: s6E, C: s6C },
  { text: [['sequence 7', .657], ['weight=0.150', .462]], ss: ssSeq7, H: s7H, E: s7E, C: s7C },
  { text: [['consensus', .655]], ss: ssCons, H: cH, E: cE, C: cC, q3: ['Q3=79.2%', .428], rings: true }
]

function ssColor(segs, i) {
  const s = segs.find(([, a, b]) => i >= a && i <= b)
  if (!s) return COIL
  return s[0] === 'H' ? HELIX : BAR_GREEN
}

function ssBars(segs, lo, hi) {
  return {
    type: 'bar',
    data: residues.map(i => ({ x: i, y: [lo, hi] })),
    backgroundColor: residues.map(i => ssColor(segs, i)),
    borderWidth: 0,
    barPercentage: 1,
    categoryPercentage: 1,
    order: 5
  }
}

function line(arr, color) {
  return {
    type: 'line',
    data: arr.map(([x, y]) => ({ x, y })),
    borderColor: color,
    borderWidth: 1.5,
    pointRadius: 0,
    tension: 0,
    fill: false,
    order: 1
  }
}

function drawRings(ctx, x, cy) {
  ctx.save()
  ctx.strokeStyle = RING
  ctx.lineWidth = 1.3
  rings.forEach(([c, hw, ry]) => {
    const cx = x.getPixelForValue(c)
    const rx = x.getPixelForValue(c + hw) - cx
    ctx.beginPath()
    ctx.ellipse(cx, cy, rx, ry, 0, 0, Math.PI * 2)
    ctx.stroke()
  })
  ctx.restore()
}

function decor(p) {
  return {
    id: 'decor',
    beforeDatasetsDraw(chart) {
      const { ctx, chartArea: a } = chart
      ctx.save()
      ctx.strokeStyle = '#000'
      ctx.lineWidth = 1.3
      ctx.strokeRect(a.left, a.top, a.right - a.left, a.bottom - a.top)
      ctx.restore()
    },
    afterDatasetsDraw(chart) {
      const { ctx, chartArea: a, scales: { x, y } } = chart
      ctx.save()
      ctx.strokeStyle = '#000'
      ctx.fillStyle = '#000'
      ctx.lineWidth = 1.3
      ctx.beginPath()
      xTicks.forEach(v => {
        const px = x.getPixelForValue(v)
        ctx.moveTo(px, a.bottom)
        ctx.lineTo(px, a.bottom + 7.6)
      })
      yTicks.forEach(v => {
        const py = y.getPixelForValue(v)
        ctx.moveTo(a.left, py)
        ctx.lineTo(a.left - 7.6, py)
      })
      ctx.stroke()

      ctx.font = '26px ' + SANS
      ctx.textAlign = 'center'
      ctx.textBaseline = 'alphabetic'
      xTicks.forEach(v => ctx.fillText(String(v), x.getPixelForValue(v), a.bottom + 28.3))
      yTicks.forEach((v, i) => {
        if (!yTickLabels[i]) return
        ctx.save()
        ctx.translate(a.left - 18.6, y.getPixelForValue(v))
        ctx.rotate(-Math.PI / 2)
        ctx.fillText(yTickLabels[i], 0, 0)
        ctx.restore()
      })

      ctx.font = '33px ' + SANS
      ctx.textAlign = 'left'
      p.text.forEach(([s, v]) => ctx.fillText(s, x.getPixelForValue(1), y.getPixelForValue(v)))

      if (p.q3) {
        ctx.font = 'bold 32px ' + SERIF
        ctx.textAlign = 'right'
        ctx.fillText(p.q3[0], x.getPixelForValue(130.6), y.getPixelForValue(p.q3[1]))
      }
      ctx.restore()
      if (p.rings) drawRings(ctx, x, y.getPixelForValue(1.02))
    }
  }
}

function baseOptions(padding, yMin, yMax) {
  return {
    animation: false,
    responsive: false,
    devicePixelRatio: 1,
    layout: { padding },
    scales: {
      x: { type: 'linear', min: -4.16, max: 135.16, offset: false, display: false },
      y: { type: 'linear', min: yMin, max: yMax, display: false }
    },
    plugins: { legend: { display: false }, tooltip: { enabled: false } }
  }
}

panels.forEach((p, k) => {
  const cv = document.createElement('canvas')
  cv.width = 1200
  cv.height = 272
  cv.style.top = Math.round(PANEL_STEP * k) + 'px'
  document.body.appendChild(cv)
  new Chart(cv, {
    type: 'line',
    data: {
      datasets: [
        ssBars(p.ss, 1.0, 1.04),
        line(p.C, COIL),
        line(p.E, STRAND),
        line(p.H, HELIX)
      ]
    },
    options: baseOptions({ left: 89, right: 52, top: 17, bottom: 41 }, -0.04, 1.04),
    plugins: [decor(p)]
  })
})

// bottom strip: true secondary structure
const trueDecor = {
  id: 'trueDecor',
  afterDatasetsDraw(chart) {
    const { ctx, scales: { x, y } } = chart
    ctx.save()
    ctx.fillStyle = '#000'
    ctx.font = '33px ' + SANS
    ctx.textAlign = 'left'
    ctx.fillText('true secondary structure', x.getPixelForValue(1), y.getPixelForValue(-0.3))
    ctx.fillStyle = RING
    ctx.font = '30px ' + SERIF
    ctx.textAlign = 'center'
    ;[['h1', 68.7], ['s1', 84.2], ['s2', 95.1]].forEach(([s, v]) => ctx.fillText(s, x.getPixelForValue(v), y.getPixelForValue(-0.4)))
    ctx.restore()
    drawRings(ctx, x, y.getPixelForValue(0.5))
  }
}

const tv = document.createElement('canvas')
tv.width = 1200
tv.height = 150
tv.style.top = '2255px'
document.body.appendChild(tv)
new Chart(tv, {
  type: 'line',
  data: { datasets: [ssBars(ssTrue, 0.405, 0.595)] },
  options: baseOptions({ left: 89, right: 52, top: 35, bottom: 55 }, 0, 1),
  plugins: [trueDecor]
})
</script>
</body>
</html>
